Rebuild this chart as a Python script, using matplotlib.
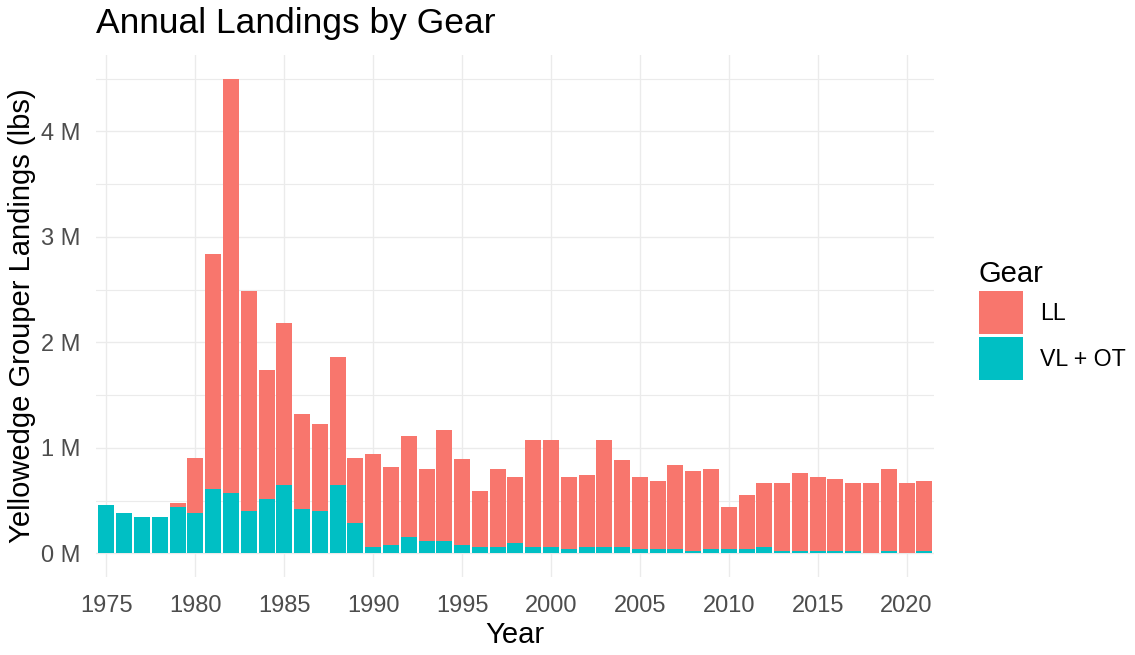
import numpy as np
import matplotlib
matplotlib.use("Agg")
import matplotlib.pyplot as plt
from matplotlib.patches import Patch
from matplotlib.ticker import FuncFormatter, MultipleLocator

# ----- Data (lbs) -----
YEARS = list(range(1975, 2022))
LL_LBS = [
    0, 0, 0, 0, 32000, 522000, 2228000, 3927000, 2088000, 1226000,
    1533000, 901000, 822000, 1208000, 616000, 881000, 745000, 957000, 688000, 1052000,
    821000, 536000, 745000, 631000, 1014000, 1014000, 688000, 688000, 1014000, 824000,
    688000, 650000, 802000, 764000, 764000, 401000, 515000, 609000, 647000, 745000,
    707000, 688000, 647000, 666000, 783000, 666000, 669000,
]
VL_OT_LBS = [
    458000, 378000, 341000, 341000, 442000, 378000, 609000, 575000, 401000, 515000,
    650000, 417000, 401000, 650000, 284000, 57000, 76000, 152000, 114000, 114000,
    76000, 57000, 57000, 95000, 57000, 57000, 38000, 57000, 57000, 57000,
    38000, 38000, 38000, 19000, 38000, 38000, 38000, 57000, 19000, 19000,
    19000, 19000, 19000, 0, 19000, 0, 19000,
]
GEAR_LABELS = ["LL", "VL + OT"]

# ----- Style -----
COL_LL = "#F8766D"
COL_VL = "#00BFC4"
GRID_COL = "#EBEBEB"
TICK_COL = "#4D4D4D"
plt.rcParams["font.family"] = ["Liberation Sans", "DejaVu Sans"]

W, H = 1135, 655
fig = plt.figure(figsize=(W / 100, H / 100), dpi=100)
ax = fig.add_axes([96 / W, 1 - 577 / H, (934 - 96) / W, (577 - 54.8) / H])

years = np.array(YEARS)
vl = np.array(VL_OT_LBS)
ll = np.array(LL_LBS)
ax.bar(years, vl, width=0.9, color=COL_VL, linewidth=0, zorder=2)
ax.bar(years, ll, width=0.9, bottom=vl, color=COL_LL, linewidth=0, zorder=2)

ax.set_xlim(1974.41, 2021.54)
top = (vl + ll).max()
ax.set_ylim(-0.05 * top, top * 1.05)

ax.xaxis.set_major_locator(MultipleLocator(5))
ax.yaxis.set_major_locator(MultipleLocator(1e6))
ax.yaxis.set_minor_locator(MultipleLocator(5e5))
ax.yaxis.set_major_formatter(FuncFormatter(lambda v, p: f"{v / 1e6:.0f} M"))

ax.grid(True, which="major", color=GRID_COL, linewidth=0.95, zorder=0)
ax.grid(True, which="minor", axis="y", color=GRID_COL, linewidth=0.8, zorder=0)
ax.set_axisbelow(True)
for s in ax.spines.values():
    s.set_visible(False)
ax.tick_params(axis="both", which="both", length=0, labelsize=17, labelcolor=TICK_COL)
ax.tick_params(axis="x", pad=13)
ax.tick_params(axis="y", pad=11)

ax.set_xlabel("Year", fontsize=21, labelpad=3)
ax.set_ylabel("Yellowedge Grouper Landings (lbs)", fontsize=21, labelpad=4)

fig.text(96 / W, 1 - 33 / H, "Annual Landings by Gear", fontsize=25.5,
         ha="left", va="baseline")

handles = [Patch(facecolor=COL_LL, edgecolor="none"),
           Patch(facecolor=COL_VL, edgecolor="none")]
leg = fig.legend(handles, GEAR_LABELS, title="Gear", loc="center left",
                 bbox_to_anchor=(979 / W, 1 - 320 / H), bbox_transform=fig.transFigure,
                 frameon=False, fontsize=16.7, title_fontsize=21,
                 handlelength=1.9, handleheight=2.45, labelspacing=0.15,
                 handletextpad=0.73, borderpad=0, borderaxespad=0,
                 alignment="left")

fig.savefig("out.png", dpi=100)
